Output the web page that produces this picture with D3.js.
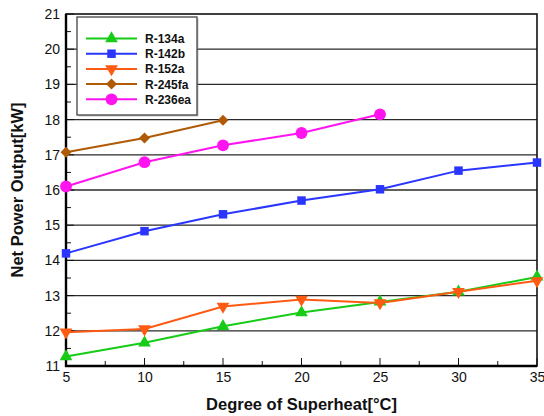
<!DOCTYPE html>
<html><head><meta charset="utf-8">
<script src="https://cdn.jsdelivr.net/npm/d3@7"></script>
<style>body{margin:0;background:#fff}svg{display:block}</style>
</head><body><svg id="c" width="544" height="416"></svg>
<script>
const xValues = [5, 10, 15, 20, 25, 30, 35];
const r134a = [11.27, 11.66, 12.13, 12.52, 12.82, 13.11, 13.53];
const r142b = [14.2, 14.83, 15.31, 15.7, 16.02, 16.55, 16.78];
const r152a = [11.96, 12.05, 12.69, 12.89, 12.79, 13.11, 13.42];
const r245fa = [17.07, 17.48, 17.98];
const r236ea = [16.1, 16.79, 17.27, 17.62, 18.15];
const seriesNames = ["R-134a", "R-142b", "R-152a", "R-245fa", "R-236ea"];
const xTicks = [5, 10, 15, 20, 25, 30, 35];
const yTicks = [11, 12, 13, 14, 15, 16, 17, 18, 19, 20, 21];

const series = [
  {name: seriesNames[0], values: r134a, color: "#16cc16", sym: d3.symbolTriangle, size: 70, rot: 0},
  {name: seriesNames[1], values: r142b, color: "#2a36ff", sym: d3.symbolSquare, size: 72, rot: 0},
  {name: seriesNames[2], values: r152a, color: "#ff5a12", sym: d3.symbolTriangle, size: 70, rot: 180},
  {name: seriesNames[3], values: r245fa, color: "#b05a06", sym: d3.symbolSquare, size: 60, rot: 45},
  {name: seriesNames[4], values: r236ea, color: "#ff14f0", sym: d3.symbolCircle, size: 110, rot: 0}
];

const svg = d3.select("#c");
const L = 66, R = 537, T = 14, B = 366;
const x = d3.scaleLinear().domain([5, 35]).range([L, R]);
const y = d3.scaleLinear().domain([11, 21]).range([B, T]);
const font = "Liberation Sans, Arial, sans-serif";

// grid
svg.append("g").selectAll("line").data(yTicks.slice(1, -1)).join("line")
  .attr("x1", L).attr("x2", R).attr("y1", d => y(d)).attr("y2", d => y(d))
  .attr("stroke", "#2a2a2a").attr("stroke-width", 1.3);

// axes (ticks inward)
const yAxis = svg.append("g").attr("transform", `translate(${L},0)`)
  .call(d3.axisLeft(y).tickValues(yTicks).tickFormat(d3.format("d")).tickSize(0).tickPadding(6));
yAxis.select(".domain").remove();
yAxis.selectAll("text").attr("font-family", font).attr("font-size", 14).attr("fill", "#111");

const xAxis = svg.append("g").attr("transform", `translate(0,${B})`)
  .call(d3.axisBottom(x).tickValues(xTicks).tickFormat(d3.format("d")).tickSize(0).tickPadding(6));
xAxis.select(".domain").remove();
xAxis.selectAll("text").attr("font-family", font).attr("font-size", 14).attr("fill", "#111");

// minor/major tick marks
const yMinor = d3.range(11, 21.01, 0.5);
svg.append("g").selectAll("line").data(yMinor).join("line")
  .attr("x1", L).attr("x2", d => L + (Number.isInteger(d) ? 8 : 5))
  .attr("y1", d => y(d)).attr("y2", d => y(d)).attr("stroke", "#111").attr("stroke-width", 1);
const xMinor = d3.range(5, 35.01, 2.5);
svg.append("g").selectAll("line").data(xMinor).join("line")
  .attr("y1", B).attr("y2", d => B - (d % 5 === 0 ? 8 : 5))
  .attr("x1", d => x(d)).attr("x2", d => x(d)).attr("stroke", "#111").attr("stroke-width", 1);

// frame
svg.append("rect").attr("x", L).attr("y", T).attr("width", R - L).attr("height", B - T)
  .attr("fill", "none").attr("stroke", "#111").attr("stroke-width", 1.6);
svg.append("line").attr("x1", L).attr("x2", L).attr("y1", T).attr("y2", B + 1).attr("stroke", "#000").attr("stroke-width", 2.4);
svg.append("line").attr("x1", L - 1).attr("x2", R).attr("y1", B).attr("y2", B).attr("stroke", "#000").attr("stroke-width", 2.4);

// series
const line = d3.line().x((d, i) => x(xValues[i])).y(d => y(d));
series.forEach(s => {
  svg.append("path").datum(s.values).attr("d", line)
    .attr("fill", "none").attr("stroke", s.color).attr("stroke-width", 2);
  svg.append("g").selectAll("path").data(s.values).join("path")
    .attr("d", d3.symbol().type(s.sym).size(s.size))
    .attr("transform", (d, i) => `translate(${x(xValues[i])},${y(d)}) rotate(${s.rot})`)
    .attr("fill", s.color);
});

// legend
const lg = svg.append("g");
lg.append("rect").attr("x", 78.5).attr("y", 18.5).attr("width", 120).attr("height", 98).attr("fill", "#888").attr("opacity", 0.5);
lg.append("rect").attr("x", 77).attr("y", 17).attr("width", 120).attr("height", 98)
  .attr("fill", "#fff").attr("stroke", "#444").attr("stroke-width", 1.3);
series.forEach((s, i) => {
  const yy = 38.5 + i * 15.2;
  lg.append("line").attr("x1", 86).attr("x2", 137).attr("y1", yy).attr("y2", yy)
    .attr("stroke", s.color).attr("stroke-width", 2);
  lg.append("path").attr("d", d3.symbol().type(s.sym).size(s.size))
    .attr("transform", `translate(111.5,${yy}) rotate(${s.rot})`).attr("fill", s.color);
  lg.append("text").attr("x", 145).attr("y", yy + 4.5).text(s.name)
    .attr("font-family", font).attr("font-size", 12).attr("font-weight", "bold").attr("fill", "#111");
});

// axis titles
svg.append("text").attr("x", (L + R) / 2).attr("y", 410).attr("text-anchor", "middle")
  .attr("font-family", font).attr("font-size", 16.5).attr("font-weight", "bold").attr("fill", "#111")
  .text("Degree of Superheat[°C]");
svg.append("text").attr("transform", `translate(23,${(T + B) / 2}) rotate(-90)`).attr("text-anchor", "middle")
  .attr("font-family", font).attr("font-size", 16.5).attr("font-weight", "bold").attr("fill", "#111")
  .text("Net Power Output[kW]");
</script>
</body></html>
